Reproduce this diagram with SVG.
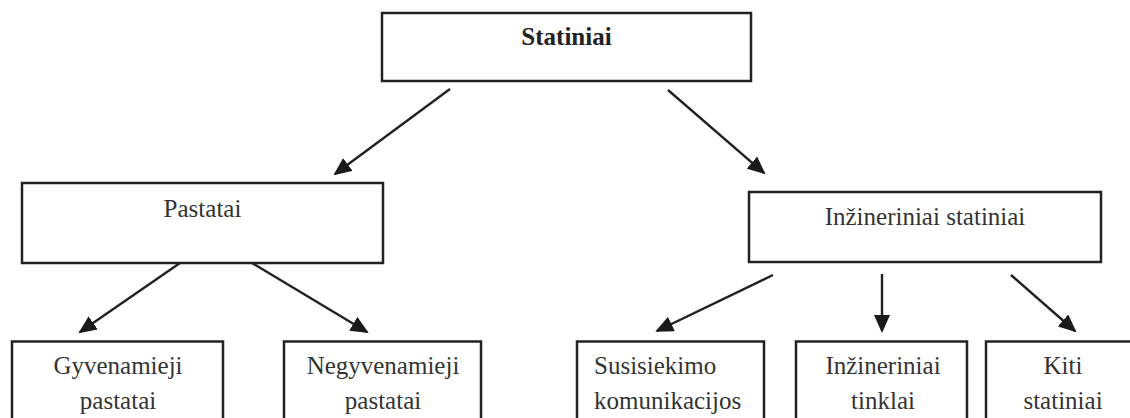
<svg xmlns="http://www.w3.org/2000/svg" width="1130" height="418" viewBox="0 0 1130 418">
  <style>
    .box { fill: #ffffff; stroke: #222222; stroke-width: 2.5; }
    .lbl { font-family: "Liberation Serif", "Times New Roman", serif; font-size: 25px; fill: #333333; text-anchor: middle; }
    .bold { font-weight: bold; fill: #222222; }
    .start { text-anchor: start; }
    .conn { stroke: #222222; stroke-width: 2.4; fill: none; marker-end: url(#arrow); }
  </style>
  <defs>
    <marker id="arrow" markerUnits="userSpaceOnUse" markerWidth="18" markerHeight="16" refX="16" refY="8" orient="auto">
      <path d="M0,0 L18,8 L0,16 z" fill="#1a1a1a"/>
    </marker>
  </defs>
  <rect width="1130" height="418" fill="#ffffff"/>

  <g id="connectors">
    <line class="conn" x1="450" y1="89" x2="335" y2="174"/>
    <line class="conn" x1="668" y1="90" x2="764" y2="173"/>
    <line class="conn" x1="180" y1="263" x2="80" y2="332"/>
    <line class="conn" x1="252" y1="263" x2="367" y2="332"/>
    <line class="conn" x1="773" y1="275" x2="657" y2="331"/>
    <line class="conn" x1="882" y1="274" x2="882" y2="331"/>
    <line class="conn" x1="1011" y1="275" x2="1075" y2="331"/>
  </g>

  <g id="statiniai">
    <rect class="box" x="382" y="13" width="369" height="68"/>
    <text class="lbl bold" x="566.5" y="45">Statiniai</text>
  </g>

  <g id="pastatai">
    <rect class="box" x="22" y="183" width="361" height="80"/>
    <text class="lbl" x="202.5" y="217">Pastatai</text>
  </g>

  <g id="inzineriniai-statiniai">
    <rect class="box" x="749" y="192" width="352" height="70"/>
    <text class="lbl" x="925" y="225">Inžineriniai statiniai</text>
  </g>

  <g id="gyvenamieji">
    <rect class="box" x="12" y="341.5" width="211" height="100"/>
    <text class="lbl" x="118" y="374">Gyvenamieji</text>
    <text class="lbl" x="118" y="409">pastatai</text>
  </g>

  <g id="negyvenamieji">
    <rect class="box" x="284" y="341.5" width="197" height="100"/>
    <text class="lbl" x="383" y="374">Negyvenamieji</text>
    <text class="lbl" x="383" y="409">pastatai</text>
  </g>

  <g id="susisiekimo">
    <rect class="box" x="577" y="341.5" width="187" height="100"/>
    <text class="lbl start" x="594" y="374">Susisiekimo</text>
    <text class="lbl start" x="594" y="409">komunikacijos</text>
  </g>

  <g id="inzineriniai-tinklai">
    <rect class="box" x="796" y="341.5" width="171" height="100"/>
    <text class="lbl" x="883" y="374">Inžineriniai</text>
    <text class="lbl" x="883" y="409">tinklai</text>
  </g>

  <g id="kiti">
    <rect class="box" x="986" y="341.5" width="200" height="100"/>
    <text class="lbl" x="1063" y="374">Kiti</text>
    <text class="lbl" x="1063" y="409">statiniai</text>
  </g>
</svg>
